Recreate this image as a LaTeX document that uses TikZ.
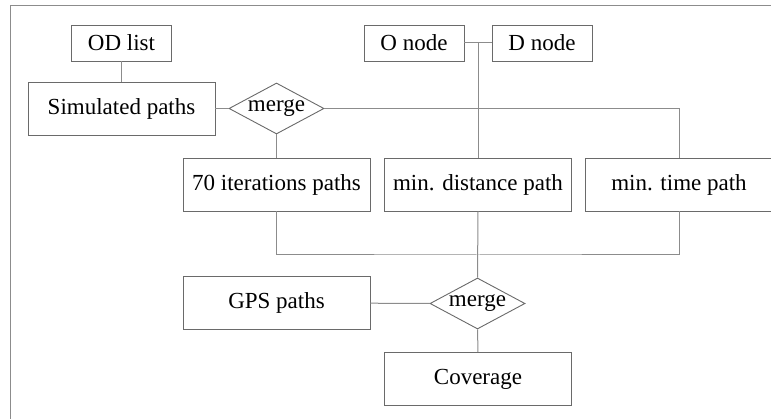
\documentclass[tikz,border=0pt]{standalone}
\usepackage{fontspec}
\setmainfont{Liberation Serif}
\usetikzlibrary{shapes.geometric}
\definecolor{linegray}{HTML}{8C8C8C}
\definecolor{boxgray}{HTML}{6A6A6A}

\begin{document}
\begin{tikzpicture}[x=1pt, y=-1pt,
        caja/.style={draw=boxgray, line width=0.9pt, fill=white, inner sep=0pt,
            font=\fontsize{23}{26}\selectfont},
        cajachica/.style={caja, minimum width=100pt, minimum height=36pt},
        cajagrande/.style={caja, minimum width=187pt, minimum height=53pt},
        rombo/.style={caja, diamond, aspect=1.86, minimum width=95pt, minimum height=51pt},
        linea/.style={draw=linegray, line width=1pt}]
        \useasboundingbox (0,0) rectangle (771,419);
        % Marco
        \draw[linegray, line width=1.2pt] (10.5,419) -- (10.5,5.5) -- (771,5.5);

        % Cajas superiores
        \node[cajachica] (odlist) at (121.5,43) {OD list};
        \node[cajagrande] (simpaths) at (121.5,108.5) {Simulated paths};
        \node[rombo] (merge1) at (276.5,108.5) {merge};
        \node[cajachica] (onode) at (414,43) {O node};
        \node[cajachica] (dnode) at (542,43) {D node};

        % Cajas del medio
        \node[cajagrande] (iterpaths) at (276.5,184.5) {70 iterations paths};
        \node[cajagrande] (mindist) at (478,184.5) {min. distance path};
        \node[cajagrande] (mintime) at (679,184.5) {min. time path};

        % Cajas inferiores
        \node[cajagrande] (gps) at (276.5,303) {GPS paths};
        \node[rombo] (merge2) at (477.5,303.5) {merge};
        \node[cajagrande] (coverage) at (478,379) {Coverage};

        % Puntos de union
        \coordinate (od) at (mindist.north |- onode.east);
        \coordinate (bus) at (mindist.south |- 0,255);

        % Conexiones
        \draw[linea] (odlist) -- (simpaths);
        \draw[linea] (simpaths) -- (merge1);
        \draw[linea] (merge1) -- (iterpaths);
        \draw[linea] (merge1.east) -| (mintime.north);
        \draw[linea] (onode) -- (dnode);
        \draw[linea] (od) -- (mindist.north);
        \draw[linea] (iterpaths.south) |- (bus) -| (mintime.south);
        \draw[linea] (mindist.south) -- (merge2.north);
        \draw[linea] (gps) -- (merge2);
        \draw[linea] (merge2) -- (coverage);
    \end{tikzpicture}
\end{document}
